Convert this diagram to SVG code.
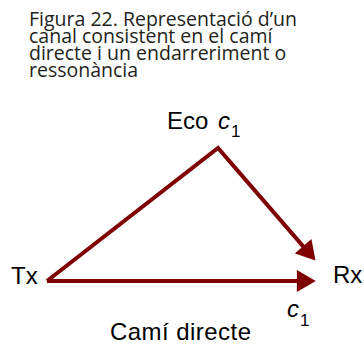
<svg xmlns="http://www.w3.org/2000/svg" width="364" height="345" viewBox="0 0 364 345">
<style>
.title{font-family:"Open Sans","Noto Sans","Liberation Sans",sans-serif;font-size:19.5px;fill:#231f20}
.lbl{font-family:"Liberation Sans",Arial,sans-serif;font-size:24px;fill:#000}
.it{font-style:italic}
.sub{font-size:17px}
.conn{fill:none;stroke:#7f0000;stroke-width:4;stroke-linejoin:miter}
</style>
<defs>
<marker id="ah" markerUnits="userSpaceOnUse" markerWidth="20" markerHeight="22" refX="2" refY="10.5" orient="auto" viewBox="0 0 18 21">
<path d="M0,0 L18,10.5 L0,21 z" fill="#7f0000"/>
</marker>
</defs>
<g id="title">
<text class="title" x="29" y="26">Figura 22. Representació d’un</text>
<text class="title" x="29" y="43">canal consistent en el camí</text>
<text class="title" x="29" y="60">directe i un endarreriment o</text>
<text class="title" x="29" y="77">ressonància</text>
</g>
<g id="connectors">
<path class="conn" d="M47,281 L218,148 L304.5,247.9" marker-end="url(#ah)"/>
<path class="conn" d="M47,281 L299,281" marker-end="url(#ah)"/>
</g>
<g id="tx"><text class="lbl" x="11" y="284">Tx</text></g>
<g id="rx"><text class="lbl" x="333" y="283">Rx</text></g>
<g id="eco"><text class="lbl" x="167" y="129">Eco <tspan class="it" x="218">c</tspan><tspan class="sub" x="231" y="137">1</tspan></text></g>
<g id="c1"><text class="lbl" x="287" y="317"><tspan class="it">c</tspan><tspan class="sub" x="300" y="326">1</tspan></text></g>
<g id="cami"><text class="lbl" x="110" y="340" textLength="141" lengthAdjust="spacing">Camí directe</text></g>
</svg>
